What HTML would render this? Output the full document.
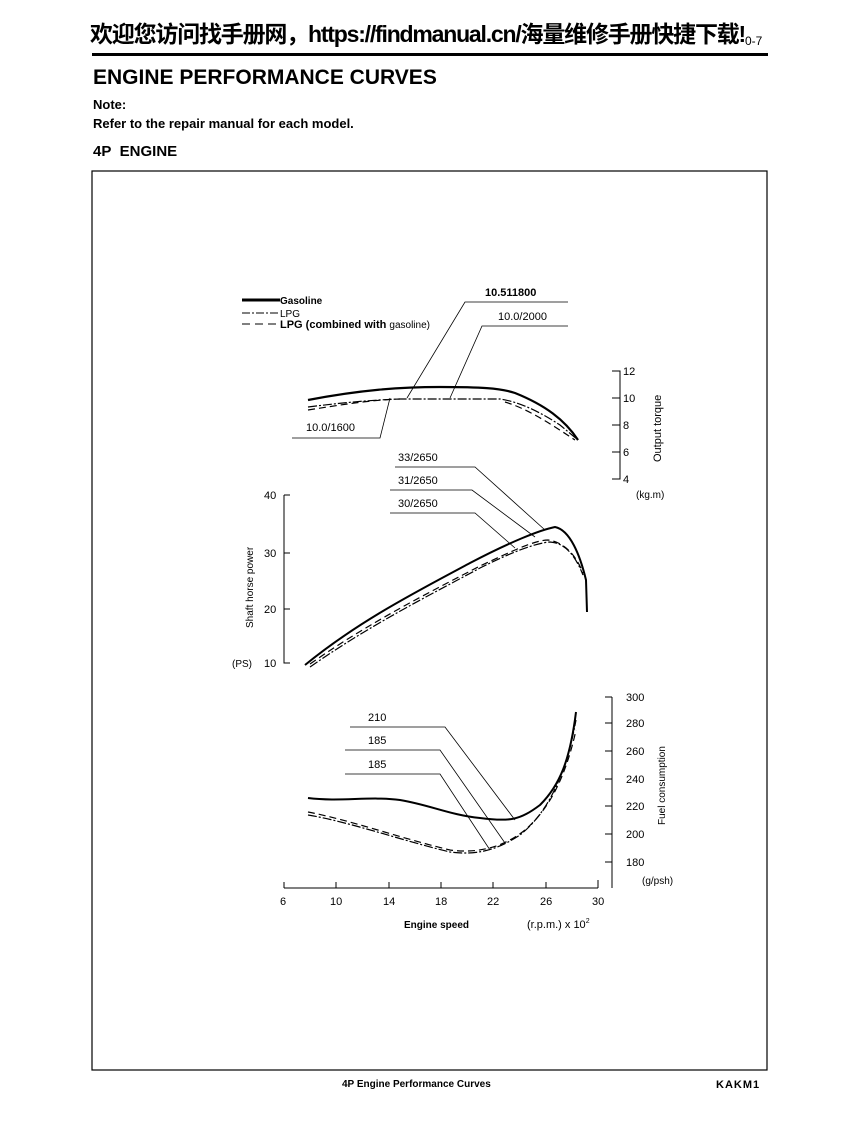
<!DOCTYPE html>
<html><head><meta charset="utf-8"><style>
body{margin:0;background:#fff;width:867px;height:1122px;overflow:hidden;position:relative;font-family:"Liberation Sans",Arial,sans-serif}
.t{position:absolute;white-space:nowrap;color:#000}
</style></head><body>
<div class="t" style="left:90px;top:15px;font-size:23px;font-weight:bold;font-family:'Liberation Sans','Noto Sans CJK SC',sans-serif;letter-spacing:-1.2px">欢迎您访问找手册网，https://findmanual.cn/海量维修手册快捷下载!</div>
<div class="t" style="left:745px;top:34px;font-size:12px">0-7</div>
<div style="position:absolute;left:92px;top:53px;width:676px;height:3px;background:#000"></div>
<div class="t" style="left:93px;top:66px;font-size:21px;font-weight:bold">ENGINE PERFORMANCE CURVES</div>
<div class="t" style="left:93px;top:97px;font-size:13px;font-weight:bold">Note:</div>
<div class="t" style="left:93px;top:116px;font-size:13px;font-weight:bold">Refer to the repair manual for each model.</div>
<div class="t" style="left:93px;top:143px;font-size:15px;font-weight:bold">4P&nbsp; ENGINE</div>
<svg style="position:absolute;left:0;top:0" width="867" height="1122" font-family="Liberation Sans, Arial, sans-serif" font-size="11">
<rect x="92" y="171" width="675" height="899" fill="none" stroke="#000" stroke-width="1.2"/>
<line x1="242" y1="300" x2="280" y2="300" stroke="#000" stroke-width="3"/>
<text x="280" y="304" font-weight="bold" font-size="10">Gasoline</text>
<line x1="242" y1="313" x2="280" y2="313" stroke="#000" stroke-dasharray="8,2,2,2"/>
<text x="280" y="317" font-size="10">LPG</text>
<line x1="242" y1="324" x2="280" y2="324" stroke="#000" stroke-dasharray="8,5"/>
<text x="280" y="328" font-size="11" font-weight="bold">LPG (combined with <tspan font-weight="normal" font-size="10">gasoline)</tspan></text>
<g stroke="#000" fill="none">
<path d="M612 371H620V479H612"/>
<path d="M612 398H620M612 425H620M612 452H620"/>
<path d="M284 495H290M284 495V663H290M284 553H290M284 609H290"/>
<path d="M612 697H605M612 697V888M605 723H612M605 751H612M605 779H612M605 806H612M605 834H612M605 862H612"/>
<path d="M284 888H598M284 888V882M336 888V882M389 888V882M441 888V882M493 888V882M546 888V882M598 888V880"/>
</g>
<g font-size="11">
<text x="623" y="375">12</text><text x="623" y="402">10</text><text x="623" y="429">8</text><text x="623" y="456">6</text><text x="623" y="483">4</text>
<text x="636" y="498" font-size="10">(kg.m)</text>
<text transform="translate(661,462) rotate(-90)" font-size="11">Output torque</text>
<text x="264" y="499">40</text><text x="264" y="557">30</text><text x="264" y="613">20</text><text x="264" y="667">10</text>
<text x="232" y="667" font-size="10">(PS)</text>
<text transform="translate(253,628) rotate(-90)" font-size="10">Shaft horse power</text>
<text x="626" y="701">300</text><text x="626" y="727">280</text><text x="626" y="755">260</text><text x="626" y="783">240</text><text x="626" y="810">220</text><text x="626" y="838">200</text><text x="626" y="866">180</text>
<text x="642" y="884" font-size="10">(g/psh)</text>
<text transform="translate(665,825) rotate(-90)" font-size="10">Fuel consumption</text>
<text x="280" y="905">6</text><text x="330" y="905">10</text><text x="383" y="905">14</text><text x="435" y="905">18</text><text x="487" y="905">22</text><text x="540" y="905">26</text><text x="592" y="905">30</text>
<text x="404" y="928" font-size="10" font-weight="bold">Engine speed</text>
<text x="527" y="928" font-size="11">(r.p.m.) x 10<tspan dy="-5" font-size="7">2</tspan></text>
</g>
<g fill="none" stroke="#000">
<path d="M308 400C360 390 400 387 440 387S500 388 515 393C545 405 565 420 578 440" stroke-width="2.2"/>
<path d="M308 407C340 403 370 400 400 399L500 399C520 402 540 412 560 425L578 440" stroke-dasharray="9,2,2,2" stroke-width="1.2"/>
<path d="M308 410C340 405 370 400 400 399M505 402C525 408 545 420 575 440" stroke-dasharray="7,4" stroke-width="1.2"/>
<path d="M305 665C360 620 420 590 470 563C510 542 540 530 555 527C570 530 580 555 586 580L587 612" stroke-width="2"/>
<path d="M310 667C370 625 430 595 480 568C510 553 535 543 550 542C565 543 575 555 583 575" stroke-dasharray="9,2,2,2" stroke-width="1.2"/>
<path d="M310 664C370 622 430 592 480 566C510 552 535 540 548 540C563 542 575 553 583 573" stroke-dasharray="7,4" stroke-width="1.2"/>
<path d="M308 798C340 802 370 796 400 800C430 805 450 815 480 818C510 822 520 820 540 805C560 785 570 760 576 712" stroke-width="2"/>
<path d="M308 815C350 822 400 840 450 852C480 856 500 848 520 835C545 815 565 780 576 720" stroke-dasharray="9,2,2,2" stroke-width="1.2"/>
<path d="M308 812C350 820 400 838 450 850C480 854 505 846 525 830C548 810 565 780 576 730" stroke-dasharray="7,4" stroke-width="1.2"/>
</g>
<g fill="none" stroke="#000" stroke-width="0.8">
<path d="M568 302H465L407 398"/>
<path d="M568 326H482L450 398"/>
<path d="M292 438H380L390 398"/>
<path d="M395 467H475L545 530"/>
<path d="M390 490H472L535 537"/>
<path d="M390 513H475L515 548"/>
<path d="M350 727H445L515 820"/>
<path d="M345 750H440L505 843"/>
<path d="M345 774H440L490 850"/>
</g>
<g font-size="11">
<text x="485" y="296" font-weight="bold">10.511800</text>
<text x="498" y="320">10.0/2000</text>
<text x="306" y="431">10.0/1600</text>
<text x="398" y="461">33/2650</text>
<text x="398" y="484">31/2650</text>
<text x="398" y="507">30/2650</text>
<text x="368" y="721">210</text>
<text x="368" y="744">185</text>
<text x="368" y="768">185</text>
</g>
<text x="342" y="1087" font-size="10" font-weight="bold">4P Engine Performance Curves</text>
<text x="716" y="1088" font-size="11" font-weight="bold" letter-spacing="1">KAKM1</text>
</svg>
</body></html>
